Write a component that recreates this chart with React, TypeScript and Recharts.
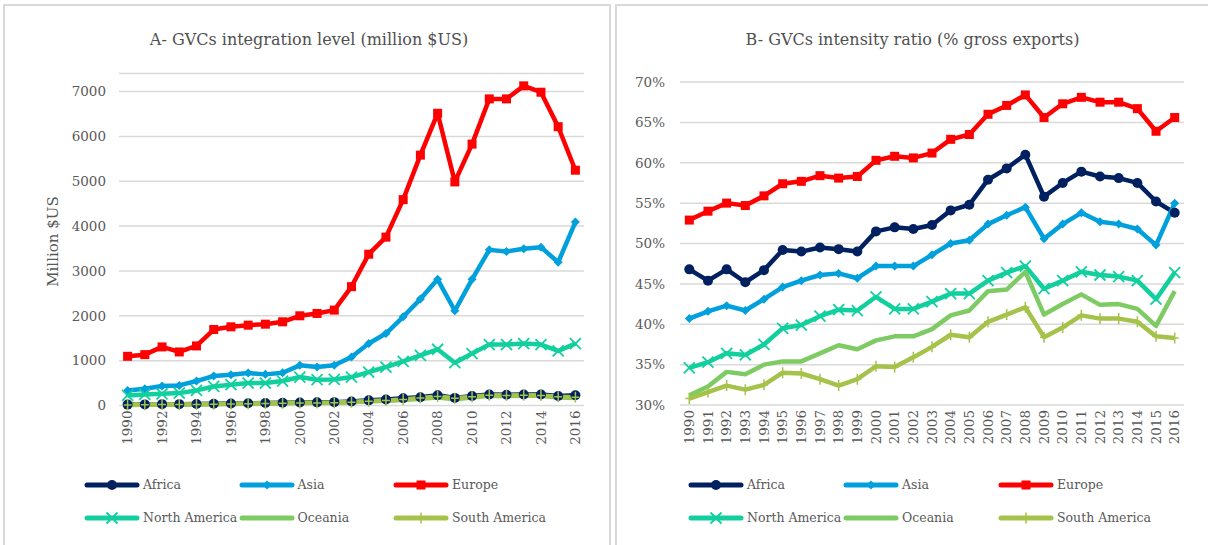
import React from 'react';
import { LineChart, Line, XAxis, YAxis, CartesianGrid } from 'recharts';

const FONT = "'DejaVu Serif', 'Liberation Serif', serif";
const GREY = '#595959';
const GRID = '#d9d9d9';

const years = [
    '1990', '1991', '1992', '1993', '1994', '1995', '1996', '1997', '1998', '1999',
    '2000', '2001', '2002', '2003', '2004', '2005', '2006', '2007', '2008', '2009',
    '2010', '2011', '2012', '2013', '2014', '2015', '2016',
];

// A - integration level, million $US
const africaLevel = [20, 25, 30, 30, 35, 40, 45, 50, 55, 60, 65, 70, 75, 90, 115, 135, 160, 185, 230, 170, 210, 245, 240, 245, 245, 210, 230];
const asiaLevel = [336, 373, 433, 448, 545, 657, 687, 724, 694, 731, 896, 858, 896, 1082, 1381, 1604, 1978, 2373, 2813, 2112, 2813, 3470, 3433, 3493, 3530, 3194, 4090];
const europeLevel = [1097, 1134, 1306, 1194, 1328, 1694, 1754, 1791, 1813, 1866, 2000, 2052, 2127, 2650, 3373, 3754, 4590, 5582, 6515, 4985, 5828, 6836, 6836, 7127, 6985, 6216, 5246];
const northAmericaLevel = [224, 246, 261, 276, 336, 425, 463, 500, 500, 545, 634, 575, 582, 634, 746, 858, 985, 1119, 1254, 955, 1157, 1358, 1358, 1381, 1358, 1216, 1381];
const oceaniaLevel = [15, 20, 25, 25, 30, 35, 40, 45, 50, 55, 60, 60, 65, 80, 95, 105, 125, 150, 180, 140, 180, 215, 210, 215, 215, 180, 165];
const southAmericaLevel = [10, 15, 20, 20, 25, 30, 35, 40, 45, 50, 55, 55, 60, 75, 95, 110, 135, 165, 200, 160, 195, 230, 225, 230, 225, 195, 185];

// B - intensity ratio, % gross exports
const africaRatio = [46.8, 45.4, 46.8, 45.2, 46.7, 49.2, 49.0, 49.5, 49.3, 49.0, 51.5, 52.0, 51.8, 52.3, 54.1, 54.8, 57.9, 59.3, 61.0, 55.8, 57.5, 58.9, 58.3, 58.1, 57.5, 55.2, 53.8];
const asiaRatio = [40.7, 41.6, 42.3, 41.7, 43.1, 44.6, 45.4, 46.1, 46.3, 45.7, 47.2, 47.2, 47.2, 48.6, 50.0, 50.4, 52.4, 53.5, 54.5, 50.6, 52.4, 53.8, 52.7, 52.4, 51.8, 49.8, 55.0];
const europeRatio = [52.9, 54.0, 55.0, 54.7, 55.9, 57.4, 57.7, 58.4, 58.1, 58.3, 60.3, 60.8, 60.6, 61.2, 62.9, 63.5, 66.0, 67.1, 68.4, 65.6, 67.3, 68.1, 67.5, 67.5, 66.7, 63.9, 65.6];
const northAmericaRatio = [34.6, 35.3, 36.4, 36.2, 37.5, 39.5, 39.9, 41.0, 41.8, 41.7, 43.4, 41.9, 41.9, 42.8, 43.8, 43.8, 45.4, 46.4, 47.2, 44.4, 45.4, 46.5, 46.1, 45.9, 45.4, 43.1, 46.4];
const oceaniaRatio = [31.2, 32.3, 34.1, 33.8, 35.0, 35.4, 35.4, 36.4, 37.4, 36.9, 38.0, 38.5, 38.5, 39.4, 41.1, 41.7, 44.1, 44.3, 46.5, 41.2, 42.5, 43.7, 42.4, 42.5, 41.9, 39.8, 44.1];
const southAmericaRatio = [30.8, 31.6, 32.4, 31.9, 32.5, 34.0, 33.9, 33.2, 32.4, 33.2, 34.8, 34.7, 35.9, 37.2, 38.7, 38.4, 40.3, 41.2, 42.1, 38.4, 39.6, 41.1, 40.7, 40.7, 40.3, 38.5, 38.3];

const levelTicks = [0, 1000, 2000, 3000, 4000, 5000, 6000, 7000];
const ratioTicks = [30, 35, 40, 45, 50, 55, 60, 65, 70];

const series = [
    { key: 'Africa', color: '#002060', marker: 'circle' },
    { key: 'Asia', color: '#00A0DC', marker: 'diamond' },
    { key: 'Europe', color: '#FF0000', marker: 'square' },
    { key: 'North America', color: '#12D09E', marker: 'cross' },
    { key: 'Oceania', color: '#7DCB62', marker: 'none' },
    { key: 'South America', color: '#A5C24A', marker: 'plus' },
];

const levelValues = [africaLevel, asiaLevel, europeLevel, northAmericaLevel, oceaniaLevel, southAmericaLevel];
const ratioValues = [africaRatio, asiaRatio, europeRatio, northAmericaRatio, oceaniaRatio, southAmericaRatio];

const buildRows = (values: number[][]) =>
    years.map((year, i) => {
        const row: Record<string, string | number> = { year };
        series.forEach((s, j) => { row[s.key] = values[j][i]; });
        return row;
    });

const levelData = buildRows(levelValues);
const ratioData = buildRows(ratioValues);

const Marker = ({ shape, color, cx, cy }: { shape: string; color: string; cx: number; cy: number }) => {
    if (shape === 'circle') return <circle cx={cx} cy={cy} r={5} fill={color} />;
    if (shape === 'square') return <rect x={cx - 4.5} y={cy - 4.5} width={9} height={9} fill={color} />;
    if (shape === 'diamond') {
        return <polygon points={`${cx},${cy - 4.5} ${cx + 4.5},${cy} ${cx},${cy + 4.5} ${cx - 4.5},${cy}`} fill={color} />;
    }
    if (shape === 'cross') {
        return (
            <path d={`M${cx - 5.5},${cy - 5.5}L${cx + 5.5},${cy + 5.5}M${cx - 5.5},${cy + 5.5}L${cx + 5.5},${cy - 5.5}`}
                stroke={color} strokeWidth={1.8} fill="none" />
        );
    }
    if (shape === 'plus') {
        return <path d={`M${cx},${cy - 5.5}L${cx},${cy + 5.5}M${cx - 4},${cy}L${cx + 4},${cy}`} stroke={color} strokeWidth={1.5} fill="none" />;
    }
    return null;
};

const makeDot = (shape: string, color: string) => (props: any) => {
    const { cx, cy, index } = props;
    if (cx == null || cy == null) return <g key={`d-${index}`} />;
    return (
        <g key={`d-${shape}-${index}`}>
            <Marker shape={shape} color={color} cx={cx} cy={cy} />
        </g>
    );
};

const YearTick = (props: any) => {
    const { x, y, payload } = props;
    return (
        <g transform={`translate(${x},${y})`}>
            <text transform="rotate(-90)" textAnchor="end" dy="0.35em" fontSize={13.5} fontFamily={FONT} fill={GREY}>
                {payload.value}
            </text>
        </g>
    );
};

const MillionLabel = (props: any) => {
    const { viewBox } = props;
    const cy = viewBox.y + viewBox.height / 2 + 2;
    return (
        <text x={53} y={cy} transform={`rotate(-90, 53, ${cy})`} textAnchor="middle" dominantBaseline="central"
            fontSize={15} fontFamily={FONT} fill={GREY}>
            Million $US
        </text>
    );
};

const Legend6 = ({ columns }: { columns: number[] }) => (
    <>
        {series.map((s, i) => {
            const lineX = columns[i % 3];
            const rowY = i < 3 ? 485 : 518;
            return (
                <div key={s.key}>
                    <svg style={{ position: 'absolute', left: lineX, top: rowY - 8 }} width={56} height={16}>
                        <line x1={3} y1={8} x2={53} y2={8} stroke={s.color} strokeWidth={5} strokeLinecap="round" />
                        <Marker shape={s.marker} color={s.color} cx={28} cy={8} />
                    </svg>
                    <div style={{
                        position: 'absolute', left: lineX + 59, top: rowY - 10, height: 20, lineHeight: '20px',
                        fontSize: 12.5, fontFamily: FONT, color: GREY, whiteSpace: 'nowrap',
                    }}>
                        {s.key}
                    </div>
                </div>
            );
        })}
    </>
);

const titleStyle = (left: number, width: number): React.CSSProperties => ({
    position: 'absolute', left, width, top: 29, height: 22, lineHeight: '22px',
    textAlign: 'center', fontSize: 16, fontFamily: FONT, color: '#505050', whiteSpace: 'nowrap',
});

const renderLines = () =>
    series.map((s) => (
        <Line
            key={s.key}
            type="linear"
            dataKey={s.key}
            stroke={s.color}
            strokeWidth={4.5}
            strokeLinejoin="round"
            dot={s.marker === 'none' ? false : makeDot(s.marker, s.color)}
            activeDot={false}
            isAnimationActive={false}
        />
    ));

export default function App() {
    return (
        <div style={{ position: 'absolute', left: 0, top: 0, width: 1208, height: 545, overflow: 'hidden', background: '#fff' }}>
            <div style={{ position: 'absolute', left: 3, top: 4, width: 608, height: 600, border: `2px solid ${GRID}`, boxSizing: 'border-box' }} />
            <div style={{ position: 'absolute', left: 615, top: 4, width: 620, height: 600, border: `2px solid ${GRID}`, boxSizing: 'border-box' }} />

            <div style={titleStyle(5, 608)}>A- GVCs integration level (million $US)</div>
            <div style={titleStyle(617, 591)}>B- GVCs intensity ratio (% gross exports)</div>

            <div style={{ position: 'absolute', left: 0, top: 0 }}>
                <LineChart width={612} height={470} data={levelData} margin={{ top: 73.6, right: 28, bottom: 0, left: 0 }}>
                    <CartesianGrid vertical={false} stroke={GRID} strokeWidth={1.5} />
                    <XAxis
                        dataKey="year"
                        interval={1}
                        height={64.5}
                        padding={{ left: 8.6, right: 8.6 }}
                        axisLine={false}
                        tickLine={false}
                        tickSize={0}
                        tickMargin={5}
                        tick={<YearTick />}
                    />
                    <YAxis
                        width={119}
                        domain={[0, 7400]}
                        ticks={levelTicks}
                        axisLine={false}
                        tickLine={false}
                        tickSize={0}
                        tickMargin={13}
                        tick={{ fontSize: 13.5, fontFamily: FONT, fill: GREY }}
                        label={<MillionLabel />}
                    />
                    {renderLines()}
                </LineChart>
            </div>

            <div style={{ position: 'absolute', left: 612, top: 0 }}>
                <LineChart width={596} height={470} data={ratioData} margin={{ top: 82, right: 24, bottom: 0, left: 0 }}>
                    <CartesianGrid vertical={false} stroke={GRID} strokeWidth={1.5} />
                    <XAxis
                        dataKey="year"
                        interval={0}
                        height={65}
                        padding={{ left: 9.3, right: 9.3 }}
                        axisLine={false}
                        tickLine={false}
                        tickSize={0}
                        tickMargin={5}
                        tick={<YearTick />}
                    />
                    <YAxis
                        width={68}
                        domain={[30, 70]}
                        ticks={ratioTicks}
                        axisLine={false}
                        tickLine={false}
                        tickSize={0}
                        tickMargin={15}
                        tickFormatter={(v: number) => `${v}%`}
                        tick={{ fontSize: 13.5, fontFamily: FONT, fill: GREY }}
                    />
                    {renderLines()}
                </LineChart>
            </div>

            <Legend6 columns={[84, 238.5, 393]} />
            <Legend6 columns={[688, 843, 998]} />
        </div>
    );
}
